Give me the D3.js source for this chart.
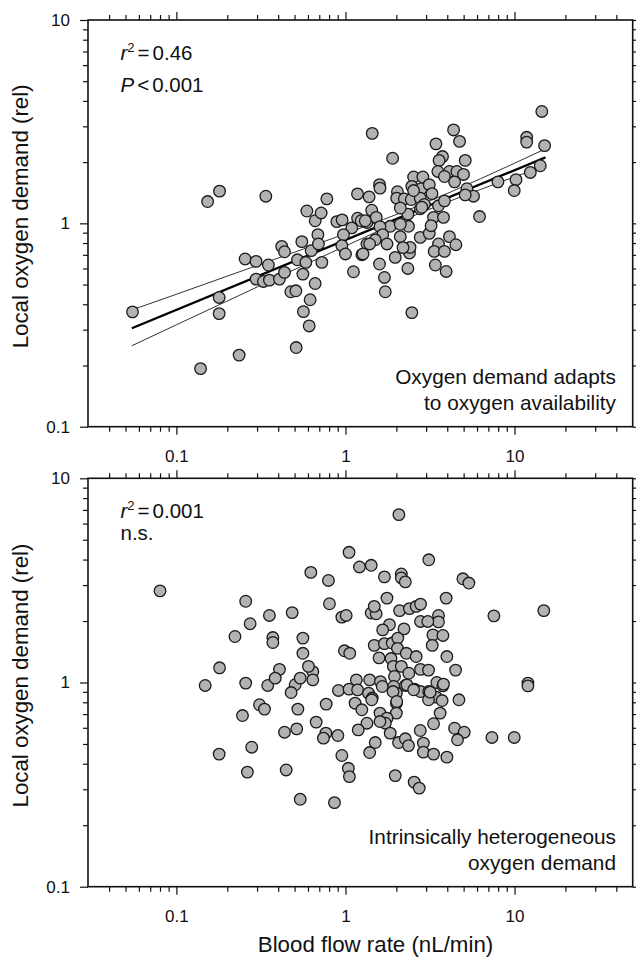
<!DOCTYPE html>
<html>
<head>
<meta charset="utf-8">
<script src="https://cdn.jsdelivr.net/npm/d3@7"></script>
<style>
  body { margin: 0; background: #fff; }
  svg { display: block; font-family: "Liberation Sans", Arial, sans-serif; }
  .tick line { stroke: #111; stroke-width: 1.2; }
  .tick text { font-size: 17px; fill: #111; }
</style>
</head>
<body>
<div id="chart"></div>
<script>
// tick values
const xMajorTicks = [0.1, 1, 10];
const xMinorTicks = [0.04, 0.05, 0.06, 0.07, 0.08, 0.09, 0.2, 0.3, 0.4, 0.5, 0.6, 0.7, 0.8, 0.9,
  2, 3, 4, 5, 6, 7, 8, 9, 20, 30, 40];
const yMajorTicks = [0.1, 1, 10];
const yMinorTicks = [0.2, 0.3, 0.4, 0.5, 0.6, 0.7, 0.8, 0.9, 2, 3, 4, 5, 6, 7, 8, 9];

// top panel: [blood flow (nL/min), local oxygen demand (rel)]
const adaptPoints = [
  [0.055, 0.367], [0.179, 0.432], [0.179, 0.36], [0.235, 0.225], [0.139, 0.193],
  [0.255, 0.668], [0.296, 0.65], [0.35, 0.624], [0.296, 0.532], [0.327, 0.518],
  [0.355, 0.526], [0.407, 0.532], [0.436, 0.574], [0.42, 0.77], [0.436, 0.725],
  [0.552, 0.813], [0.52, 0.662], [0.583, 0.643], [0.627, 0.734], [0.56, 0.563],
  [0.662, 0.506], [0.475, 0.461], [0.509, 0.466], [0.618, 0.421], [0.564, 0.368],
  [0.61, 0.313], [0.511, 0.245], [0.687, 0.88], [0.153, 1.28], [0.18, 1.44],
  [0.338, 1.36], [0.591, 1.15], [0.662, 1.03], [0.718, 1.125], [0.776, 1.32],
  [0.692, 0.792], [0.725, 0.643], [0.889, 1.02], [0.956, 1.04], [1.09, 0.95],
  [0.973, 0.88], [0.952, 0.777], [1.0, 0.707], [1.115, 0.578], [1.178, 1.396],
  [1.18, 1.06], [1.239, 1.03], [1.25, 0.701], [1.34, 0.792], [1.34, 1.01],
  [1.44, 2.77], [1.38, 1.35], [1.9, 2.09], [4.36, 2.88], [4.73, 2.53],
  [3.43, 2.46], [3.75, 2.13], [3.58, 2.04], [5.11, 2.04], [3.52, 1.8],
  [4.12, 1.8], [4.56, 1.8], [4.99, 1.74], [3.85, 1.7], [4.42, 1.6],
  [14.5, 3.55], [11.8, 2.65], [11.8, 2.51], [15.06, 2.41], [14.2, 1.92],
  [12.4, 1.78], [10.2, 1.64], [9.96, 1.45], [7.98, 1.6], [6.21, 1.08],
  [5.23, 1.48], [5.72, 1.36], [5.11, 1.38], [2.53, 1.69], [2.87, 1.69],
  [2.47, 1.52], [2.81, 1.48], [3.13, 1.55], [1.59, 1.55], [1.6, 1.49],
  [2.03, 1.43], [2.01, 1.33], [2.23, 1.32], [2.45, 1.31], [2.77, 1.33],
  [3.25, 1.4], [2.93, 1.24], [3.55, 1.22], [3.85, 1.29], [2.77, 1.18],
  [2.34, 1.11], [2.11, 1.19], [1.43, 1.16], [1.52, 1.07], [3.32, 1.07],
  [3.8, 1.07], [2.36, 0.967], [1.84, 0.967], [1.6, 0.963], [2.11, 0.86],
  [1.66, 0.88], [1.5, 0.83], [1.76, 0.792], [1.39, 0.792], [1.27, 0.707],
  [1.97, 0.68], [2.39, 0.715], [2.41, 0.762], [2.77, 0.853], [3.13, 0.893],
  [3.55, 0.792], [3.35, 0.728], [3.85, 0.728], [4.12, 0.86], [4.5, 0.785],
  [3.21, 0.974], [1.59, 0.631], [1.7, 0.542], [1.72, 0.461], [2.34, 0.6],
  [3.4, 0.624], [3.94, 0.58], [2.47, 0.364], [2.53, 1.45], [2.11, 0.99],
  [2.83, 1.2], [2.19, 0.76], [1.31, 1.03]
];

// regression fit and its confidence bounds (top panel)
const fitFlow = [0.0545, 15.25];
const fitDemand = [0.305, 2.11];
const ciFlow = [0.0545, 0.1, 0.316, 1, 2.82, 6.31, 15.25];
const ciUpper = [0.375, 0.448, 0.63, 0.889, 1.239, 1.659, 2.326];
const ciLower = [0.25, 0.317, 0.496, 0.774, 1.132, 1.469, 1.919];

// bottom panel: [blood flow (nL/min), local oxygen demand (rel)]
const heteroPoints = [
  [0.08, 2.81], [0.624, 3.46], [0.257, 2.5], [0.273, 1.94], [0.222, 1.68],
  [0.355, 2.13], [0.484, 2.2], [0.372, 1.66], [0.372, 1.57], [0.56, 1.65],
  [0.56, 1.39], [0.18, 1.18], [0.148, 0.967], [0.257, 0.993], [0.347, 0.967],
  [0.407, 1.16], [0.384, 1.05], [0.504, 0.975], [0.54, 1.05], [0.477, 0.893],
  [0.641, 1.13], [0.641, 1.03], [0.604, 1.2], [0.31, 0.778], [0.332, 0.741],
  [0.246, 0.689], [0.523, 0.741], [0.436, 0.571], [0.515, 0.593], [0.671, 0.64],
  [0.279, 0.482], [0.179, 0.446], [0.263, 0.364], [0.446, 0.373], [0.54, 0.268],
  [0.793, 3.16], [0.804, 2.43], [0.952, 2.09], [1.01, 2.13], [0.986, 1.43],
  [0.909, 0.914], [1.05, 0.928], [0.769, 0.784], [0.766, 0.565], [0.741, 0.534],
  [0.902, 0.55], [0.952, 0.439], [1.04, 0.38], [1.055, 0.346], [0.861, 0.258],
  [1.05, 4.34], [2.07, 6.64], [1.21, 3.68], [1.42, 3.75], [3.11, 3.99],
  [1.7, 3.29], [2.14, 3.4], [2.14, 3.25], [2.26, 3.11], [4.95, 3.22],
  [5.37, 3.07], [1.76, 2.59], [3.94, 2.59], [7.55, 2.12], [14.9, 2.25],
  [1.42, 2.19], [1.52, 2.17], [1.48, 2.36], [2.09, 2.25], [2.39, 2.3],
  [2.62, 2.36], [2.78, 2.42], [3.55, 2.13], [3.55, 1.98], [2.78, 1.99],
  [3.07, 1.99], [1.82, 1.92], [1.66, 1.81], [2.22, 1.83], [3.29, 1.71],
  [3.77, 1.7], [3.26, 1.52], [3.98, 1.34], [4.48, 1.15], [1.48, 1.52],
  [1.7, 1.55], [1.89, 1.56], [1.06, 1.39], [1.58, 1.32], [2.04, 1.65],
  [2.03, 1.47], [2.29, 1.39], [2.62, 1.34], [1.86, 1.31], [1.92, 1.2],
  [2.14, 1.2], [2.37, 1.11], [1.95, 1.07], [2.78, 1.16], [3.1, 1.15],
  [1.16, 1.03], [1.18, 0.92], [1.39, 1.03], [1.61, 1.01], [1.65, 0.956],
  [1.37, 0.887], [1.44, 0.839], [1.93, 0.956], [2.26, 0.967], [2.56, 0.928],
  [2.78, 0.903], [2.0, 0.887], [2.0, 0.792], [3.11, 0.903], [3.47, 1.0],
  [3.77, 0.963], [3.44, 0.848], [3.73, 0.816], [4.69, 0.823], [12.0, 0.993],
  [12.0, 0.963], [3.1, 0.823], [1.14, 0.792], [1.25, 0.735], [1.43, 0.823],
  [1.91, 0.903], [2.01, 0.807], [2.0, 0.708], [2.31, 0.974], [2.53, 0.921],
  [3.17, 0.897], [3.8, 0.982], [3.63, 0.708], [1.6, 0.708], [1.76, 0.669],
  [1.72, 0.632], [1.84, 0.565], [1.6, 0.644], [1.34, 0.632], [1.19, 0.586],
  [1.5, 0.508], [1.39, 0.454], [2.06, 0.508], [2.26, 0.53], [2.36, 0.491],
  [2.77, 0.582], [3.32, 0.628], [2.89, 0.505], [2.89, 0.456], [3.32, 0.446],
  [3.98, 0.431], [4.42, 0.597], [5.04, 0.571], [4.6, 0.524], [7.35, 0.538],
  [9.96, 0.538], [1.97, 0.35], [2.55, 0.325], [2.73, 0.304]
];

const width = 636, height = 960;
const left = 88, right = 632.7;

const svg = d3.select("#chart")
  .append("svg")
  .attr("width", width)
  .attr("height", height);

const x = d3.scaleLog().domain([0.03, 50]).range([left, right]);

function drawPanel(top, bottom, opts) {
  const y = d3.scaleLog().domain([0.1, 10]).range([bottom, top]);
  const g = svg.append("g");

  // axes: major ticks with labels, minor ticks without
  const fmt = (d) => String(d);
  g.append("g").attr("transform", `translate(0,${bottom})`)
    .call(d3.axisBottom(x).tickValues(xMajorTicks).tickSize(8).tickPadding(15).tickFormat(fmt));
  g.append("g").attr("transform", `translate(0,${bottom})`)
    .call(d3.axisBottom(x).tickValues(xMinorTicks).tickSize(5).tickFormat(""));
  g.append("g").attr("transform", `translate(0,${top})`)
    .call(d3.axisTop(x).tickValues(xMajorTicks).tickSize(8).tickFormat(""));
  g.append("g").attr("transform", `translate(0,${top})`)
    .call(d3.axisTop(x).tickValues(xMinorTicks).tickSize(5).tickFormat(""));
  g.append("g").attr("transform", `translate(${left},0)`)
    .call(d3.axisLeft(y).tickValues(yMajorTicks).tickSize(8).tickPadding(10).tickFormat(fmt));
  g.append("g").attr("transform", `translate(${left},0)`)
    .call(d3.axisLeft(y).tickValues(yMinorTicks).tickSize(5).tickFormat(""));
  g.append("g").attr("transform", `translate(${right},0)`)
    .call(d3.axisRight(y).tickValues(yMajorTicks).tickSize(8).tickFormat(""));
  g.append("g").attr("transform", `translate(${right},0)`)
    .call(d3.axisRight(y).tickValues(yMinorTicks).tickSize(5).tickFormat(""));
  g.selectAll(".domain").remove();
  g.selectAll(".tick text").attr("font-family", null).attr("font-size", null);

  // regression lines drawn under the points
  if (opts.fit) {
    const line = d3.line().x((d) => x(d[0])).y((d) => y(d[1])).curve(d3.curveMonotoneX);
    [ciUpper, ciLower].forEach((band) => {
      g.append("path")
        .datum(ciFlow.map((f, i) => [f, band[i]]))
        .attr("d", line)
        .attr("fill", "none")
        .attr("stroke", "#333")
        .attr("stroke-width", 1);
    });
    g.append("path")
      .datum(fitFlow.map((f, i) => [f, fitDemand[i]]))
      .attr("d", d3.line().x((d) => x(d[0])).y((d) => y(d[1])))
      .attr("fill", "none")
      .attr("stroke", "#000")
      .attr("stroke-width", 2.3);
  }

  g.append("g")
    .selectAll("circle")
    .data(opts.points)
    .enter()
    .append("circle")
    .attr("cx", (d) => x(d[0]))
    .attr("cy", (d) => y(d[1]))
    .attr("r", 5.8)
    .attr("fill", "#b2b2b2")
    .attr("stroke", "#1a1a1a")
    .attr("stroke-width", 1.3);

  // frame
  g.append("rect")
    .attr("x", left)
    .attr("y", top)
    .attr("width", right - left)
    .attr("height", bottom - top)
    .attr("fill", "none")
    .attr("stroke", "#111")
    .attr("stroke-width", 1.6);

  // statistics
  const stat = g.append("text")
    .attr("x", 120.5)
    .attr("y", top + 40)
    .attr("font-size", 20.5)
    .attr("fill", "#111");
  stat.append("tspan").attr("font-style", "italic").text("r");
  stat.append("tspan").attr("font-size", 13).attr("dy", -8).text("2");
  stat.append("tspan").attr("dy", 8).attr("dx", 3).text("=");
  stat.append("tspan").attr("dx", 3).text(opts.r2);

  const sig = g.append("text")
    .attr("x", 120.5)
    .attr("y", top + opts.sigOffset)
    .attr("font-size", 20.5)
    .attr("fill", "#111");
  if (opts.sig) {
    sig.append("tspan").attr("font-style", "italic").text("P");
    sig.append("tspan").attr("dx", 3).text("<");
    sig.append("tspan").attr("dx", 3).text("0.001");
  } else {
    sig.text("n.s.");
  }

  // caption at lower right
  g.append("g")
    .selectAll("text")
    .data(opts.caption)
    .enter()
    .append("text")
    .attr("x", 616)
    .attr("y", (d, i) => bottom - 43 + i * 26)
    .attr("text-anchor", "end")
    .attr("font-size", 20.8)
    .attr("fill", "#111")
    .text((d) => d);

  // y axis title
  const cy = (top + bottom) / 2 - 7;
  g.append("text")
    .attr("transform", `translate(28,${cy}) rotate(-90)`)
    .attr("text-anchor", "middle")
    .attr("font-size", 22.3)
    .attr("fill", "#111")
    .text("Local oxygen demand (rel)");
}

drawPanel(20, 426.7, {
  points: adaptPoints,
  fit: true,
  r2: "0.46",
  sig: true,
  sigOffset: 72,
  caption: ["Oxygen demand adapts", "to oxygen availability"]
});

drawPanel(478.3, 886.7, {
  points: heteroPoints,
  fit: false,
  r2: "0.001",
  sig: false,
  sigOffset: 62,
  caption: ["Intrinsically heterogeneous", "oxygen demand"]
});

svg.append("text")
  .attr("x", 375.5)
  .attr("y", 952)
  .attr("text-anchor", "middle")
  .attr("font-size", 22.3)
  .attr("fill", "#111")
  .text("Blood flow rate (nL/min)");
</script>
</body>
</html>
